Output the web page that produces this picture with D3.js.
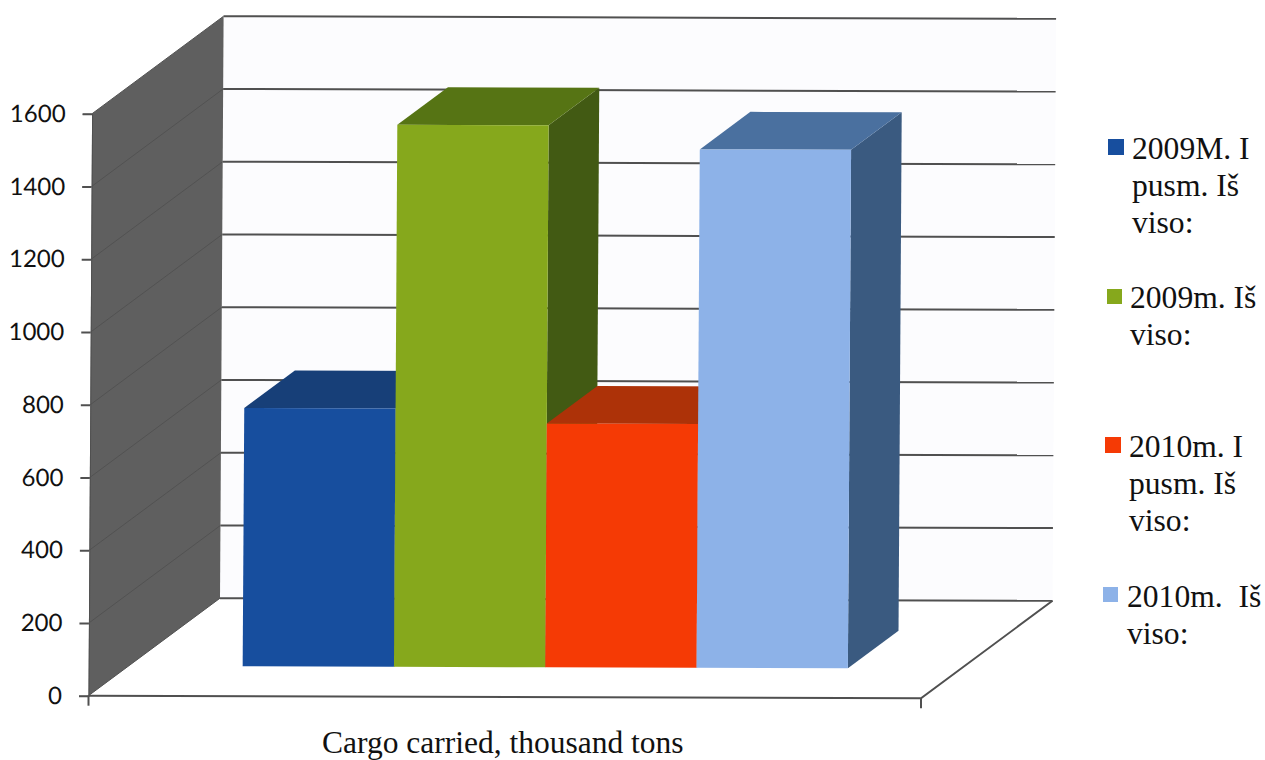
<!DOCTYPE html>
<html>
<head>
<meta charset="utf-8">
<script src="https://cdn.jsdelivr.net/npm/d3@7/dist/d3.min.js"></script>
<style>
  html, body { margin: 0; padding: 0; background: #fff; }
  svg { display: block; }
</style>
</head>
<body>
<svg id="chart" width="1265" height="760"></svg>
<script>
// Chart data
const categories = ["2009M. I pusm. Iš viso:", "2009m. Iš viso:", "2010m. I pusm. Iš viso:", "2010m.  Iš viso:"];
const cargoValues = [710, 1490, 670, 1425];
const valueTicks = [0, 200, 400, 600, 800, 1000, 1200, 1400, 1600];
const axisTitle = "Cargo carried, thousand tons";
const legendLines = [
  ["2009M. I", "pusm. Iš", "viso:"],
  ["2009m. Iš", "viso:"],
  ["2010m. I", "pusm. Iš", "viso:"],
  ["2010m.  Iš", "viso:"]
];

// Face colours per series
const frontColors = ["#174e9e", "#86a81c", "#f53a05", "#8db2e8"];
const topColors = ["#173f78", "#567414", "#ad3208", "#4a709f"];
const sideColors = ["#143763", "#425a13", "#8a2806", "#3a5a80"];

const svg = d3.select("#chart");

// Oblique projection: width along the floor, value upward, depth into the box
const widthX = d3.scaleLinear().domain([0, 1]).range([0, 832.5]);
const widthY = d3.scaleLinear().domain([0, 1]).range([0, 2.6]);
const valueY = d3.scaleLinear().domain([0, 1600]).range([0, -582]);
const valueX = d3.scaleLinear().domain([0, 1600]).range([0, 3.6]);
const depthX = d3.scaleLinear().domain([0, 1]).range([0, 131.5]);
const depthY = d3.scaleLinear().domain([0, 1]).range([0, -97.5]);
const originX = 88.5, originY = 695.7;

function project(u, v, d) {
  return [
    originX + widthX(u) + valueX(v) + depthX(d),
    originY + widthY(u) + valueY(v) + depthY(d)
  ];
}
const polygon = pts => "M" + pts.map(p => p.join(",")).join("L") + "Z";
const segment = (a, b) => "M" + a.join(",") + "L" + b.join(",");

// Back wall and left wall
svg.append("path")
  .attr("d", polygon([project(0, 0, 1), project(0, 1600, 1), project(1, 1600, 1), project(1, 0, 1)]))
  .attr("fill", "#fcfcfe");
svg.append("path")
  .attr("d", polygon([project(0, 0, 0), project(0, 1600, 0), project(0, 1600, 1), project(0, 0, 1)]))
  .attr("fill", "#5f5f5f");

// Gridlines on both walls
svg.append("g").selectAll("path").data(valueTicks).join("path")
  .attr("d", v => segment(project(0, v, 0), project(0, v, 1)))
  .attr("stroke", "#525252").attr("stroke-width", 1).attr("fill", "none");
svg.append("g").selectAll("path").data(valueTicks).join("path")
  .attr("d", v => segment(project(0, v, 1), project(1, v, 1)))
  .attr("stroke", "#505050").attr("stroke-width", 2).attr("fill", "none");

// Floor outline
svg.append("path")
  .attr("d", "M" + [project(0, 0, 0), project(1, 0, 0), project(1, 0, 1)].map(p => p.join(",")).join("L"))
  .attr("stroke", "#505050").attr("stroke-width", 2).attr("fill", "none");
svg.append("g").selectAll("path").data([0, 1]).join("path")
  .attr("d", u => {
    const p = project(u, 0, 0);
    return segment(p, [p[0], p[1] + 10]);
  })
  .attr("stroke", "#505050").attr("stroke-width", 2);

// Columns: sides and tops from left to right, front faces on top of them
const band = d3.scaleBand().domain(categories).range([0.137, 0.864]);
const barFront = 0.305, barBack = 0.69;
const bars = categories.map((c, i) => ({
  i,
  u0: band(c),
  u1: band(c) + band.bandwidth(),
  value: cargoValues[i]
}));
const barLayer = svg.append("g");
bars.forEach(b => {
  barLayer.append("path")
    .attr("d", polygon([project(b.u1, 0, barFront), project(b.u1, b.value, barFront), project(b.u1, b.value, barBack), project(b.u1, 0, barBack)]))
    .attr("fill", sideColors[b.i]);
  barLayer.append("path")
    .attr("d", polygon([project(b.u0, b.value, barFront), project(b.u1, b.value, barFront), project(b.u1, b.value, barBack), project(b.u0, b.value, barBack)]))
    .attr("fill", topColors[b.i]);
});
barLayer.selectAll("path.front").data(bars).join("path")
  .attr("class", "front")
  .attr("d", b => polygon([project(b.u0, 0, barFront), project(b.u0, b.value, barFront), project(b.u1, b.value, barFront), project(b.u1, 0, barFront)]))
  .attr("fill", b => frontColors[b.i]);

// Value axis, sheared along the front edge of the left wall
const axisScale = d3.scaleLinear().domain([0, 1600]).range([0, -582]);
const axis = d3.axisLeft(axisScale).tickValues(valueTicks).tickSize(9.5).tickPadding(17).tickFormat(d3.format("d"));
const axisG = svg.append("g")
  .attr("transform", `matrix(1,0,-0.0062,1,${originX},${originY})`)
  .call(axis);
axisG.select(".domain").attr("stroke", "#505050").attr("stroke-width", 1);
axisG.selectAll(".tick line").attr("stroke", "#505050").attr("stroke-width", 2);
axisG.selectAll(".tick text")
  .attr("fill", "#111")
  .style("font-family", "Lato, sans-serif")
  .style("font-size", "24px");

// Category axis title
svg.append("text")
  .attr("x", 322).attr("y", 752.5)
  .attr("fill", "#111")
  .style("font-family", "'Liberation Serif', serif")
  .style("font-size", "31.5px")
  .text(axisTitle);

// Legend layout
const legendSwatchX = [1108, 1107, 1105, 1103];
const legendSwatchY = [139, 289, 437, 587];
const legendSwatchSize = [16, 15, 16, 15];
const legendTextX = [1132, 1130, 1129, 1127];
const legendBaseline = [159, 308, 457, 607];
const legendLeading = 37;

const legend = svg.append("g").selectAll("g").data(categories).join("g");
legend.append("rect")
  .attr("x", (d, i) => legendSwatchX[i])
  .attr("y", (d, i) => legendSwatchY[i])
  .attr("width", (d, i) => legendSwatchSize[i])
  .attr("height", (d, i) => legendSwatchSize[i])
  .attr("fill", (d, i) => frontColors[i]);
legend.each(function (d, i) {
  d3.select(this).selectAll("text").data(legendLines[i]).join("text")
    .attr("x", legendTextX[i])
    .attr("y", (line, k) => legendBaseline[i] + k * legendLeading)
    .attr("fill", "#111")
    .style("white-space", "pre")
    .style("font-family", "'Liberation Serif', serif")
    .style("font-size", "31.6px")
    .text(line => line);
});
</script>
</body>
</html>
